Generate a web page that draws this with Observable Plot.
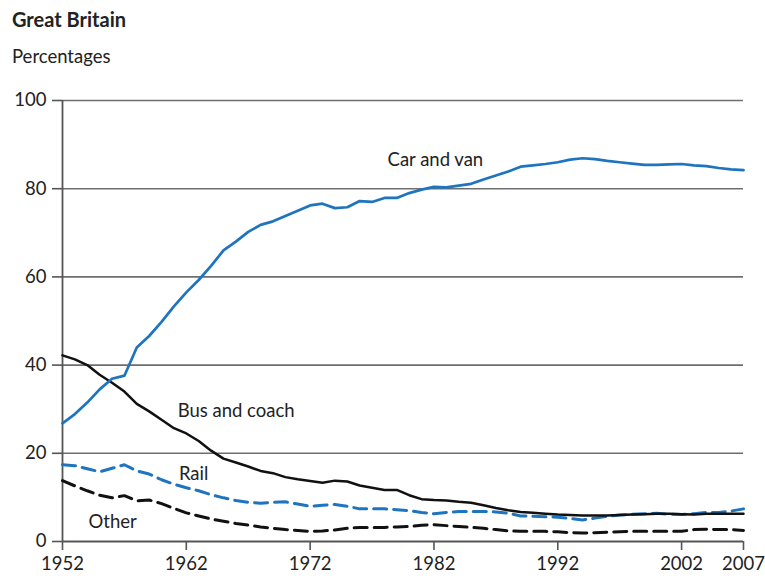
<!DOCTYPE html>
<html>
<head>
<meta charset="utf-8">
<script src="https://cdn.jsdelivr.net/npm/d3@7"></script>
<script src="https://cdn.jsdelivr.net/npm/@observablehq/plot@0.6"></script>
<style>
  html, body { margin: 0; padding: 0; background: #fff; }
  #wrap { width: 765px; height: 581px; position: relative; font-family: Lato, "Liberation Sans", sans-serif; color: #222; }
  #title { position: absolute; left: 12px; top: 7px; font-size: 20px; font-weight: bold; }
  #subtitle { position: absolute; left: 12px; top: 45px; font-size: 18.5px; }
  #chart { position: absolute; left: 0; top: 80px; }
</style>
</head>
<body>
<div id="wrap">
  <div id="title">Great Britain</div>
  <div id="subtitle">Percentages</div>
  <div id="chart"></div>
</div>
<script>
const years = [1952,1953,1954,1955,1956,1957,1958,1959,1960,1961,1962,1963,1964,1965,1966,1967,1968,1969,1970,1971,
  1972,1973,1974,1975,1976,1977,1978,1979,1980,1981,1982,1983,1984,1985,1986,1987,1988,1989,1990,1991,
  1992,1993,1994,1995,1996,1997,1998,1999,2000,2001,2002,2003,2004,2005,2006,2007];

const carAndVan = [26.8,28.9,31.5,34.5,36.9,37.6,44.0,46.6,49.8,53.3,56.5,59.3,62.5,66.0,68.0,70.2,71.8,72.6,73.8,75.0,
  76.2,76.6,75.6,75.8,77.2,77.0,77.9,77.9,79.0,79.8,80.4,80.3,80.7,81.1,82.1,83.0,83.9,85.0,85.3,85.6,
  86.0,86.6,86.9,86.7,86.3,86.0,85.7,85.4,85.4,85.5,85.6,85.3,85.1,84.7,84.4,84.2];

const busAndCoach = [42.2,41.3,40.0,37.8,36.0,34.0,31.2,29.5,27.6,25.7,24.5,22.8,20.6,18.8,17.9,17.0,16.0,15.5,14.6,14.1,
  13.7,13.3,13.8,13.6,12.7,12.2,11.7,11.7,10.5,9.6,9.4,9.3,9.0,8.8,8.2,7.6,7.1,6.7,6.5,6.3,
  6.1,6.0,5.9,5.9,5.9,6.0,6.1,6.2,6.3,6.3,6.2,6.1,6.3,6.3,6.3,6.3];

const rail = [17.4,17.2,16.5,15.8,16.6,17.4,16.0,15.3,14.0,13.0,12.2,11.5,10.6,9.9,9.3,8.9,8.7,8.9,9.0,8.5,
  8.0,8.2,8.4,8.0,7.4,7.4,7.4,7.2,7.0,6.6,6.3,6.6,6.8,6.8,6.8,6.7,6.4,5.8,5.7,5.6,
  5.5,5.2,4.9,5.3,5.7,6.0,6.2,6.3,6.4,6.2,6.1,6.3,6.6,6.6,6.9,7.4];

const other = [13.8,12.6,11.5,10.5,9.9,10.4,9.2,9.4,8.6,7.5,6.5,5.8,5.1,4.6,4.1,3.7,3.3,3.0,2.7,2.5,
  2.3,2.4,2.6,3.0,3.2,3.2,3.2,3.3,3.4,3.7,3.8,3.6,3.4,3.2,3.0,2.7,2.4,2.3,2.3,2.3,
  2.2,2.0,1.9,2.0,2.1,2.2,2.3,2.3,2.3,2.3,2.3,2.7,2.8,2.7,2.7,2.5];

const xTicks = [1952,1962,1972,1982,1992,2002,2007];
const yTicks = [0,20,40,60,80,100];

const seriesNames = ["Car and van","Bus and coach","Rail","Other"];
const labelYears = [1978.25, 1961.3, 1961.4, 1954.1];
const labelValues = [86.4, 29.5, 15.4, 4.5];

const table = (vals) => years.map((y, i) => ({year: y, value: vals[i]}));
const labels = seriesNames.map((s, i) => ({name: s, x: labelYears[i], y: labelValues[i]}));

const blue = "#1f74bf";

const chart = Plot.plot({
  width: 765,
  height: 501,
  marginTop: 20,
  marginBottom: 40,
  marginLeft: 62,
  marginRight: 22,
  style: {fontFamily: 'Lato, "Liberation Sans", sans-serif', fontSize: "18.5px", color: "#222", background: "#fff"},
  x: {domain: [1952, 2007]},
  y: {domain: [0, 100]},
  marks: [
    Plot.ruleY(yTicks.slice(1), {stroke: "#6e6e6e", strokeWidth: 1.6}),
    Plot.axisY({ticks: yTicks, tickSize: 10, tickPadding: 6, label: null, stroke: "#555", strokeWidth: 1.6, fill: "#222"}),
    Plot.axisX({ticks: xTicks, tickSize: 9, tickPadding: 6, tickFormat: d => String(d), label: null, stroke: "#555", strokeWidth: 1.6, fill: "#222"}),
    Plot.ruleY([0], {stroke: "#555", strokeWidth: 1.8}),
    Plot.ruleX([1952], {stroke: "#555", strokeWidth: 1.8}),
    Plot.line(table(other), {x: "year", y: "value", stroke: "#111", strokeWidth: 3, strokeDasharray: "13,7", curve: "linear"}),
    Plot.line(table(rail), {x: "year", y: "value", stroke: blue, strokeWidth: 3, strokeDasharray: "13,7", curve: "linear"}),
    Plot.line(table(busAndCoach), {x: "year", y: "value", stroke: "#111", strokeWidth: 2.5}),
    Plot.line(table(carAndVan), {x: "year", y: "value", stroke: blue, strokeWidth: 2.7}),
    Plot.text(labels, {x: "x", y: "y", text: "name", textAnchor: "start", fill: "#222", fontSize: 18.5})
  ]
});
document.getElementById("chart").appendChild(chart);
</script>
</body>
</html>
